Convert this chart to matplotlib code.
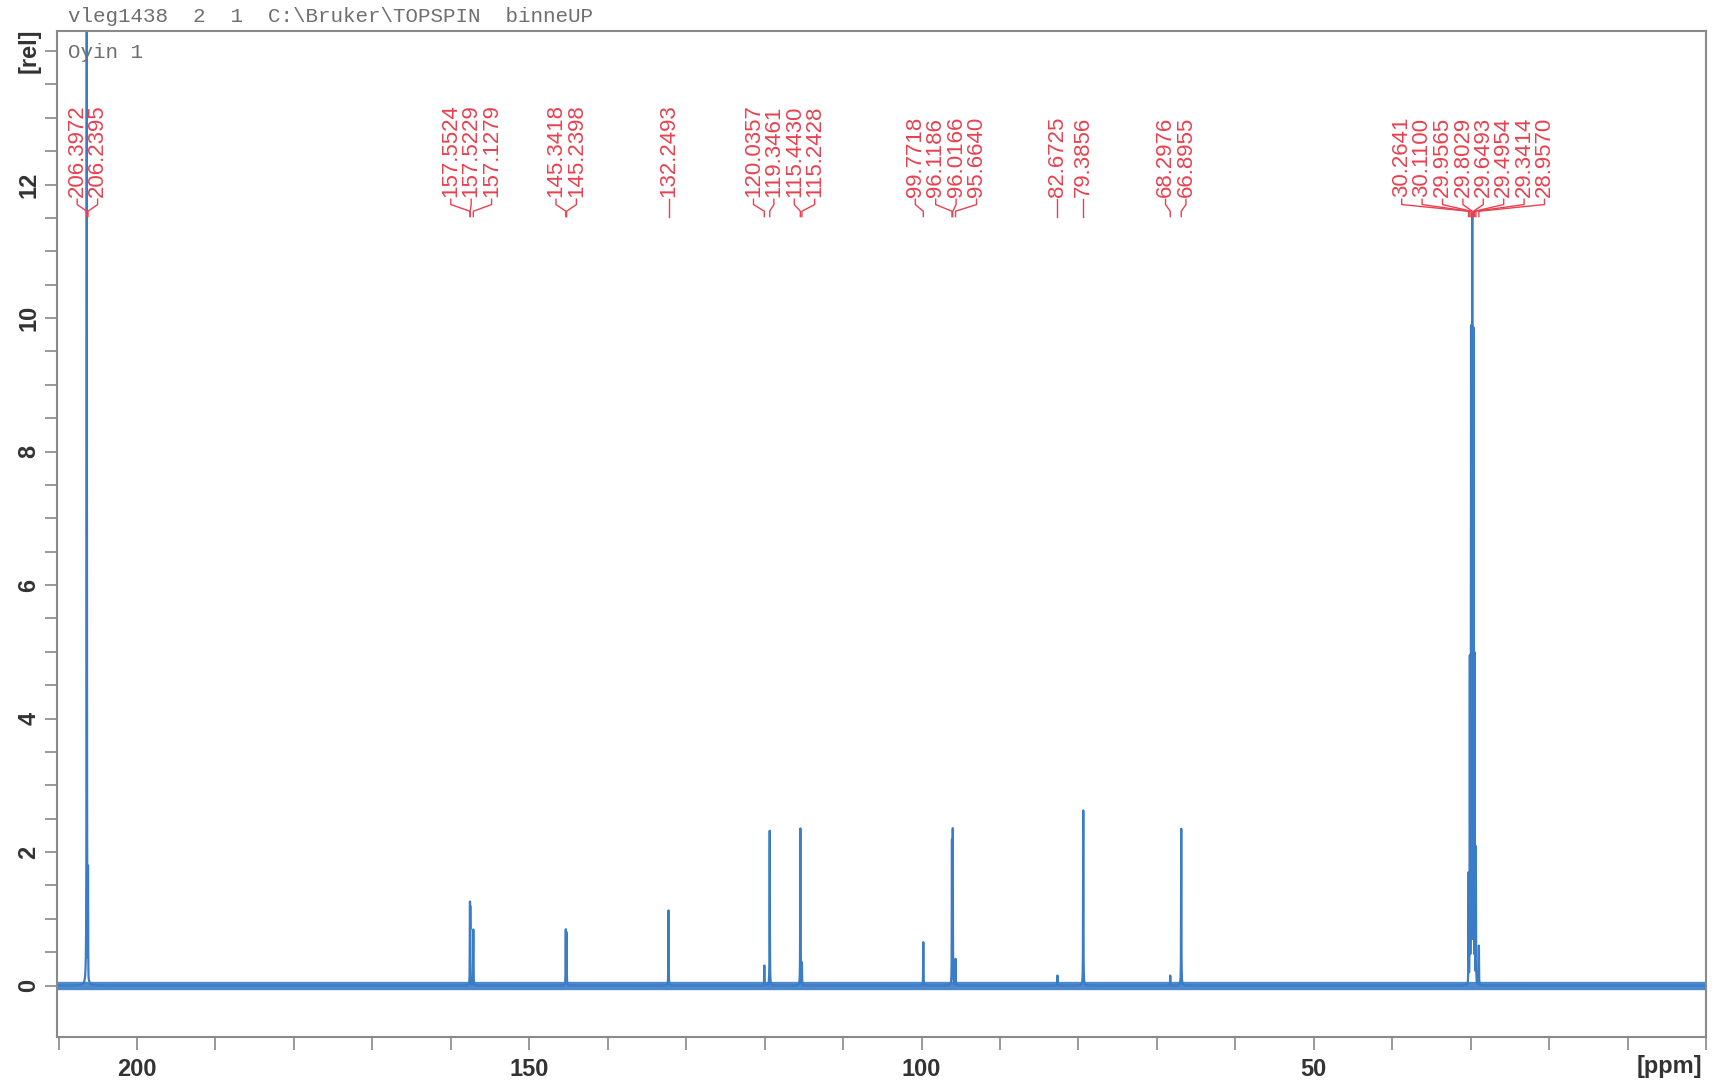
import numpy as np
import matplotlib
matplotlib.use('Agg')
import matplotlib.pyplot as plt

# peak list (ppm) as labelled on the spectrum, with heights
peak_ppm = [206.3972, 206.2395,
            157.5524, 157.5229, 157.1279,
            145.3418, 145.2398,
            132.2493,
            120.0357, 119.3461, 115.4430, 115.2428,
            99.7718, 96.1186, 96.0166, 95.6640,
            82.6725, 79.3856,
            68.2976, 66.8955,
            30.2641, 30.1100, 29.9565, 29.8029, 29.6493, 29.4954, 29.3414, 28.9570]
peak_height = [16.0, 1.8,
               1.26, 1.2, 0.84,
               0.85, 0.8,
               1.13,
               0.3, 2.34, 2.36, 0.35,
               0.65, 2.2, 2.36, 0.4,
               0.15, 2.64,
               0.15, 2.35,
               1.7, 5.0, 9.9, 11.6, 9.9, 5.0, 2.1, 0.6]

header = 'vleg1438  2  1  C:\\Bruker\\TOPSPIN  binneUP'
title = 'Oyin 1'
blue = '#3b7cc6'
red = '#e8414f'

# spectrum built from the peak list (narrow lines)
x = np.arange(0.0, 210.5, 0.004)
y = np.zeros_like(x)
w = 0.02
for p, h in zip(peak_ppm, peak_height):
    y = np.maximum(y, h * w**2 / ((x - p)**2 + w**2))

fig = plt.figure(figsize=(17.15, 10.84), dpi=100)
ax = fig.add_axes([0.0332, 0.0434, 0.9616, 0.928])
ax.axhline(0, color=blue, lw=6, alpha=0.9, zorder=1)
ax.plot(x, y, color=blue, lw=1.6, zorder=2)
ax.set_xlim(210.2, 0)
ax.set_ylim(-0.77, 14.3)

# ticks
xt = np.arange(0, 211, 10)
ax.set_xticks(xt)
ax.set_xticklabels([str(int(v)) if v in (50, 100, 150, 200) else '' for v in xt])
yt = np.arange(0, 14.01, 0.5)
ax.set_yticks(yt)
ylab = []
for v in yt:
    if v == 14:
        ylab.append('[rel]')
    elif v % 2 == 0:
        ylab.append(str(int(v)))
    else:
        ylab.append('')
ax.set_yticklabels(ylab, rotation=90, va='center')
ax.tick_params(axis='both', direction='out', length=9, width=1.2, color='#888888',
               labelsize=17, labelcolor='#333333')
ax.tick_params(axis='x', pad=6)
ax.tick_params(axis='y', pad=3)
for lab in ax.get_xticklabels() + ax.get_yticklabels():
    lab.set_fontweight('bold')
    lab.set_family('Liberation Sans')
for s in ax.spines.values():
    s.set_color('#8a8a8a')
    s.set_linewidth(1.5)
ax.text(0.978, -0.029, '[ppm]', transform=ax.transAxes, ha='center', va='center',
        fontsize=17, fontweight='bold', color='#333333', family='Liberation Sans')

# header texts
fig.text(68 / 1715, 1 - 16 / 1084, header, family='Liberation Mono', fontsize=15,
         color='#6f6f6f', va='center')
ax.text(0.007, 0.979, title, transform=ax.transAxes, family='Liberation Mono',
        fontsize=15, color='#6f6f6f', va='center')

# peak label placement: merge overlapping clusters and spread labels evenly
s = 2.6
clusters = [[i] for i in range(len(peak_ppm))]
changed = True
while changed:
    changed = False
    for k in range(len(clusters) - 1):
        a, b = clusters[k], clusters[k + 1]
        ca = np.mean([peak_ppm[i] for i in a])
        cb = np.mean([peak_ppm[i] for i in b])
        lo_a = ca - (len(a) - 1) / 2 * s
        hi_b = cb + (len(b) - 1) / 2 * s
        if lo_a - hi_b < s:
            clusters[k] = a + b
            del clusters[k + 1]
            changed = True
            break

label_x = {}
for c in clusters:
    cen = np.mean([peak_ppm[i] for i in c])
    for j, i in enumerate(c):
        label_x[i] = cen + ((len(c) - 1) / 2 - j) * s

for i, p in enumerate(peak_ppm):
    lx = label_x[i]
    ax.text(lx, 11.82, '%.4f' % p, rotation=90, ha='center', va='bottom',
            fontsize=16, color=red, family='Liberation Sans')
    ax.plot([lx, lx, p, p], [11.78, 11.7, 11.6, 11.52], color=red, lw=1.0)

fig.savefig('out.png', dpi=100)
